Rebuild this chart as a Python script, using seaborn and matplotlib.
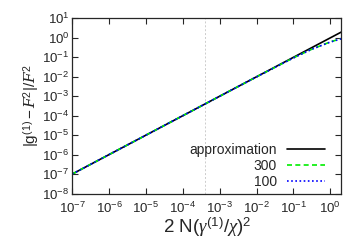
import numpy as np
import pandas as pd
import matplotlib
matplotlib.use("Agg")
import matplotlib.pyplot as plt
import seaborn as sns

# values (log-log)
x_vals = [1e-7, 1e-6, 1e-5, 1e-4, 1e-3, 1e-2, 1e-1, 0.3, 1.0, 2.0]
approx = [1e-7, 1e-6, 1e-5, 1e-4, 1e-3, 1e-2, 1e-1, 0.3, 1.0, 2.0]
n300 = [1e-7, 1e-6, 1e-5, 1e-4, 1e-3, 0.0099, 0.094, 0.25, 0.62, 0.92]
n100 = [1e-7, 1e-6, 1e-5, 1e-4, 1e-3, 0.0099, 0.093, 0.25, 0.61, 0.90]
vline_x = 4e-4

sns.set_style("ticks")
plt.rcParams['font.family'] = ['Liberation Sans', 'DejaVu Sans']
plt.rcParams['mathtext.fontset'] = 'custom'
plt.rcParams['mathtext.rm'] = 'Liberation Sans'
plt.rcParams['mathtext.it'] = 'Liberation Serif:italic'
plt.rcParams['mathtext.cal'] = 'DejaVu Serif:italic'

df = pd.DataFrame({
    "x": x_vals * 3,
    "y": approx + n300 + n100,
    "series": ["approximation"] * len(x_vals) + ["300"] * len(x_vals) + ["100"] * len(x_vals),
})

fig, ax = plt.subplots(figsize=(3.52, 2.45), dpi=100)
ax.axvline(vline_x, color="#cccccc", lw=0.7, ls=(0, (2, 2)), zorder=0)
sns.lineplot(data=df, x="x", y="y", hue="series", style="series",
             palette={"approximation": "black", "300": "#00ee00", "100": "#0000ff"},
             dashes={"approximation": "", "300": (3, 2), "100": (1, 1.5)},
             lw=1.2, ax=ax)
ax.set_xscale("log")
ax.set_yscale("log")
ax.set_xlim(1e-7, 2)
ax.set_ylim(1e-8, 1e1)
ax.set_xticks([10.0**k for k in range(-7, 1)])
ax.set_yticks([10.0**k for k in range(-8, 2)])
ax.tick_params(which="both", direction="in", top=True, right=True, labelsize=9.5)
ax.tick_params(axis="x", pad=5)
ax.tick_params(axis="y", pad=2)
ax.tick_params(which="major", length=4)
ax.tick_params(which="minor", length=2)
for s in ax.spines.values():
    s.set_linewidth(0.9)

ax.set_xlabel(r"2 N$(\gamma^{(1)}/\chi)^2$", fontsize=13.5, labelpad=0)
ax.set_ylabel(r"$|\mathrm{g}^{(1)}-\mathcal{F}^2|/\mathcal{F}^2$", fontsize=11, labelpad=0)

leg = ax.legend(loc="lower right", frameon=False, markerfirst=False, fontsize=10,
                handlelength=2.8, labelspacing=0.15, handletextpad=0.7,
                bbox_to_anchor=(0.987, -0.045))
for t in leg.get_texts():
    t.set_ha("right")
leg._legend_box.align = "right"

fig.subplots_adjust(left=0.205, right=0.97, top=0.925, bottom=0.21)
fig.savefig("out.png", dpi=100)
